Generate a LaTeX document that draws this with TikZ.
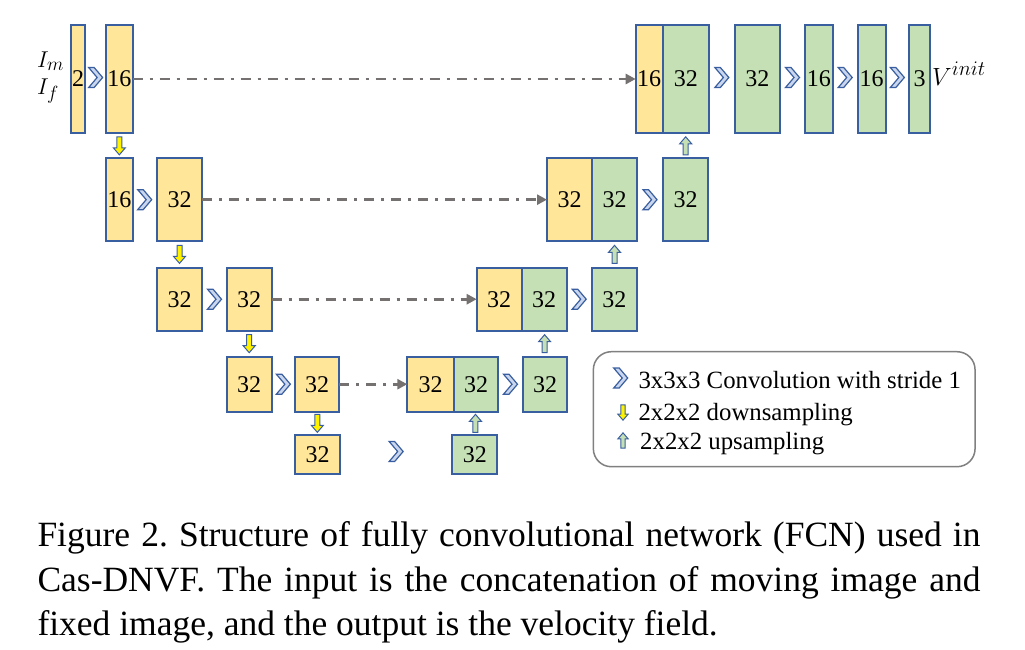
\documentclass[tikz,border=0pt]{standalone}
\usepackage{fontspec}
\setmainfont{Liberation Serif}
\usetikzlibrary{arrows.meta,calc}
\frenchspacing
\definecolor{bbord}{HTML}{3A5FA0}
\definecolor{byel}{HTML}{FFE699}
\definecolor{bgrn}{HTML}{C5E0B4}
\definecolor{dgray}{HTML}{767171}
\definecolor{chevfill}{HTML}{C9D6EE}
\definecolor{legbord}{HTML}{808080}
\newcommand\mkbox[7]{%
  \node[blk, fill=#6, minimum width={#3-#2}, minimum height={#5-#4}]
    (#1) at ({(#2+#3)/2},{(#4+#5)/2}) {#7};}
\tikzset{
  blk/.style={draw=bbord, line width=1.8pt, inner sep=0pt, outer sep=0pt,
    font=\fontsize{24}{28}\selectfont},
  skipline/.style={draw=dgray, line width=2.6pt,
    dash pattern=on 10pt off 7pt on 3pt off 7pt,
    -{Triangle[length=10pt,width=10pt]}},
  chev/.pic={\filldraw[fill=chevfill, draw=bbord, line width=1.2pt, line join=miter]
    (-7,-10) -- (-1.5,-10) -- (7,0) -- (-1.5,10) -- (-7,10) -- (1.5,0) -- cycle;},
  dnarr/.pic={\filldraw[fill=yellow, draw=bbord, line width=1pt]
    (-2.5,-9) -- (2.5,-9) -- (2.5,2) -- (6,2) -- (0,9) -- (-6,2) -- (-2.5,2) -- cycle;},
  uparr/.pic={\filldraw[fill=bgrn, draw=bbord, line width=1pt]
    (-2.5,9) -- (2.5,9) -- (2.5,-2) -- (6,-2) -- (0,-9) -- (-6,-2) -- (-2.5,-2) -- cycle;},
  captxt/.style={anchor=base west, inner sep=0pt, font=\fontsize{35.5}{44}\selectfont},
  legtxt/.style={anchor=base west, inner sep=0pt, font=\fontsize{24.8}{29}\selectfont},
  mathlbl/.style={anchor=base west, inner sep=0pt, font=\fontsize{24.88}{30}\selectfont},
}
\begin{document}
\begin{tikzpicture}[x=1pt,y=-1pt]
\fill[white] (0,0) rectangle (1025,649);
\useasboundingbox (0,0) rectangle (1025,649);

% row 1
\mkbox{a1}{70.7}{85.3}{24.7}{133.3}{byel}{2}
\mkbox{a2}{106}{132.7}{24.7}{133.3}{byel}{16}
\mkbox{u1y}{635.7}{662.7}{24.7}{133.3}{byel}{16}
\mkbox{u1g}{662.7}{709}{24.7}{133.3}{bgrn}{32}
\mkbox{u1b}{734.7}{780}{24.7}{133.3}{bgrn}{32}
\mkbox{u1c}{805}{832.7}{24.7}{133.3}{bgrn}{16}
\mkbox{u1d}{857.7}{885.7}{24.7}{133.3}{bgrn}{16}
\mkbox{u1e}{909}{930}{24.7}{133.3}{bgrn}{3}
% row 2
\mkbox{b1}{106}{132.7}{158.3}{241}{byel}{16}
\mkbox{b2}{156.7}{202.3}{158.3}{241}{byel}{32}
\mkbox{u2y}{547}{592}{158.3}{241}{byel}{32}
\mkbox{u2g}{592}{637.3}{158.3}{241}{bgrn}{32}
\mkbox{u2b}{662.7}{708.3}{158.3}{241}{bgrn}{32}
% row 3
\mkbox{c1}{156.7}{202.3}{267.7}{330.7}{byel}{32}
\mkbox{c2}{226.7}{271.7}{267.7}{330.7}{byel}{32}
\mkbox{u3y}{476.7}{521.7}{267.7}{330.7}{byel}{32}
\mkbox{u3g}{521.7}{566.7}{267.7}{330.7}{bgrn}{32}
\mkbox{u3b}{591.7}{637}{267.7}{330.7}{bgrn}{32}
% row 4
\mkbox{d1}{226.7}{271.7}{356.7}{411.7}{byel}{32}
\mkbox{d2}{295}{339.3}{356.7}{411.7}{byel}{32}
\mkbox{u4y}{407.3}{454}{356.7}{411.7}{byel}{32}
\mkbox{u4g}{454}{498.3}{356.7}{411.7}{bgrn}{32}
\mkbox{u4b}{522.7}{567.3}{356.7}{411.7}{bgrn}{32}
% row 5
\mkbox{e1}{295}{340}{435}{474}{byel}{32}
\mkbox{e2}{452.3}{497.3}{435}{474}{bgrn}{32}

% skip connections
\draw[skipline] (a2.east) -- (u1y.west);
\draw[skipline] (b2.east) -- (u2y.west);
\draw[skipline] (c2.east) -- (u3y.west);
\draw[skipline] (d2.east) -- (u4y.west);

% convolutions
\pic at ($(a1.east)!0.5!(a2.west)+(0,-1.5)$) {chev};
\pic at ($(b1.east)!0.5!(b2.west)$) {chev};
\pic at ($(c1.east)!0.5!(c2.west)$) {chev};
\pic at ($(d1.east)!0.5!(d2.west)$) {chev};
\pic at ($(e1.east)!0.5!(e2.west)+(0,-3)$) {chev};
\pic at ($(u4g.east)!0.5!(u4b.west)$) {chev};
\pic at ($(u3g.east)!0.5!(u3b.west)$) {chev};
\pic at ($(u2g.east)!0.5!(u2b.west)$) {chev};
\pic at ($(u1g.east)!0.5!(u1b.west)+(0,-1.5)$) {chev};
\pic at ($(u1b.east)!0.5!(u1c.west)+(0,-1.5)$) {chev};
\pic at ($(u1c.east)!0.5!(u1d.west)+(0,-1.5)$) {chev};
\pic at ($(u1d.east)!0.5!(u1e.west)+(0,-1.5)$) {chev};

% downsampling
\pic at ($(a2.south)!0.5!(b1.north)$) {dnarr};
\pic at ($(b2.south)!0.5!(c1.north)$) {dnarr};
\pic at ($(c2.south)!0.5!(d1.north)$) {dnarr};
\pic at ($(d2.south)!0.5!(e1.north)$) {dnarr};
% upsampling
\pic at ($(e2.north)!0.5!(u4g.south)$) {uparr};
\pic at ($(u4b.north)!0.5!(u3g.south)$) {uparr};
\pic at ($(u3b.north)!0.5!(u2g.south)$) {uparr};
\pic at ($(u2b.north)!0.5!(u1g.south)$) {uparr};

% input / output labels
\node[mathlbl] (im) at (37,67) {\scalebox{0.92}{$I_m$}};
\node[mathlbl] (if) at (37,94) {\scalebox{0.92}{$I_f$}};
\node[mathlbl] (vout) at (932,85) {$V^{init}$};

% legend
\node[draw=legbord, line width=1.5pt, rounded corners=18pt, inner sep=0pt,
      minimum width=381.7pt, minimum height=115pt] (leg) at (784.2,409.2) {};
\pic at (620.7,378) {chev};
\node[legtxt] (l1) at (638.3,388.3) {3x3x3 Convolution with stride 1};
\pic[scale=0.85] at (623,412.5) {dnarr};
\node[legtxt] (l2) at (638.3,420) {2x2x2 downsampling};
\pic[scale=0.85] at (623,440.5) {uparr};
\node[legtxt] (l3) at (640,449) {2x2x2 upsampling};

% caption
\node[captxt] (cap1) at (37.3,546.7) {\makebox[943pt][s]{Figure 2. Structure of fully convolutional network (FCN) used in}};
\node[captxt] (cap2) at (37.3,591) {\makebox[943pt][s]{Cas-DNVF. The input is the concatenation of moving image and}};
\node[captxt] (cap3) at (37.3,635) {fixed image, and the output is the velocity field.};
\end{tikzpicture}
\end{document}
